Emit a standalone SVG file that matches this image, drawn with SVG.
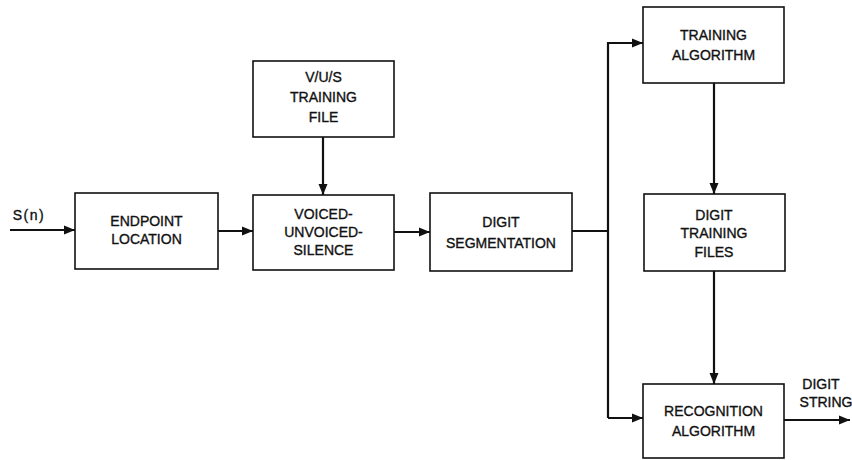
<svg xmlns="http://www.w3.org/2000/svg" width="852" height="460" viewBox="0 0 852 460">
<style>
.box{fill:#fff;stroke:#111;stroke-width:1.6}
.t{font-family:"Liberation Sans",Arial,sans-serif;font-size:14px;fill:#111;stroke:#111;stroke-width:0.35;text-anchor:middle}
.c{fill:none;stroke:#111;stroke-width:2.2}
</style>
<defs>
<marker id="ah" markerUnits="userSpaceOnUse" markerWidth="12" markerHeight="10" refX="11" refY="5" orient="auto">
<path d="M0,0.5 L11,5 L0,9.5 Z" fill="#111"/>
</marker>
</defs>
<rect width="852" height="460" fill="#fff"/>
<g id="connectors">
<line class="c" x1="10" y1="230" x2="75" y2="230" marker-end="url(#ah)"/>
<line class="c" x1="218" y1="231" x2="253" y2="231" marker-end="url(#ah)"/>
<line class="c" x1="323" y1="137" x2="323" y2="195" marker-end="url(#ah)"/>
<line class="c" x1="394" y1="232" x2="430" y2="232" marker-end="url(#ah)"/>
<polyline class="c" points="572,231 608,231"/>
<polyline class="c" points="608,418 608,43 643,43" marker-end="url(#ah)"/>
<line class="c" x1="608" y1="418" x2="643" y2="418" marker-end="url(#ah)"/>
<line class="c" x1="714" y1="83" x2="714" y2="194" marker-end="url(#ah)"/>
<line class="c" x1="714" y1="271" x2="714" y2="384" marker-end="url(#ah)"/>
<line class="c" x1="784" y1="420" x2="850" y2="420" marker-end="url(#ah)"/>
</g>
<g id="input">
<text class="t" x="29" y="220" letter-spacing="1.5">S(n)</text>
</g>
<g id="endpoint">
<rect class="box" x="75" y="193" width="143" height="76"/>
<text class="t" x="146.5" y="226">ENDPOINT</text>
<text class="t" x="146.5" y="244">LOCATION</text>
</g>
<g id="vus-file">
<rect class="box" x="253" y="61" width="141" height="76"/>
<text class="t" x="323.5" y="82">V/U/S</text>
<text class="t" x="323.5" y="102">TRAINING</text>
<text class="t" x="323.5" y="122">FILE</text>
</g>
<g id="vus">
<rect class="box" x="253" y="195" width="141" height="75"/>
<text class="t" x="323.5" y="219">VOICED-</text>
<text class="t" x="323.5" y="237">UNVOICED-</text>
<text class="t" x="323.5" y="255">SILENCE</text>
</g>
<g id="segmentation">
<rect class="box" x="430" y="193" width="142" height="78"/>
<text class="t" x="501" y="227">DIGIT</text>
<text class="t" x="501" y="248">SEGMENTATION</text>
</g>
<g id="training-algorithm">
<rect class="box" x="643" y="7" width="141" height="76"/>
<text class="t" x="713.5" y="40">TRAINING</text>
<text class="t" x="713.5" y="60">ALGORITHM</text>
</g>
<g id="training-files">
<rect class="box" x="644" y="194" width="141" height="77"/>
<text class="t" x="714" y="220">DIGIT</text>
<text class="t" x="714" y="238">TRAINING</text>
<text class="t" x="714" y="257">FILES</text>
</g>
<g id="recognition">
<rect class="box" x="643" y="384" width="141" height="74"/>
<text class="t" x="713.5" y="416">RECOGNITION</text>
<text class="t" x="713.5" y="436">ALGORITHM</text>
</g>
<g id="output">
<text class="t" x="821" y="389">DIGIT</text>
<text class="t" x="826" y="407">STRING</text>
</g>
</svg>
